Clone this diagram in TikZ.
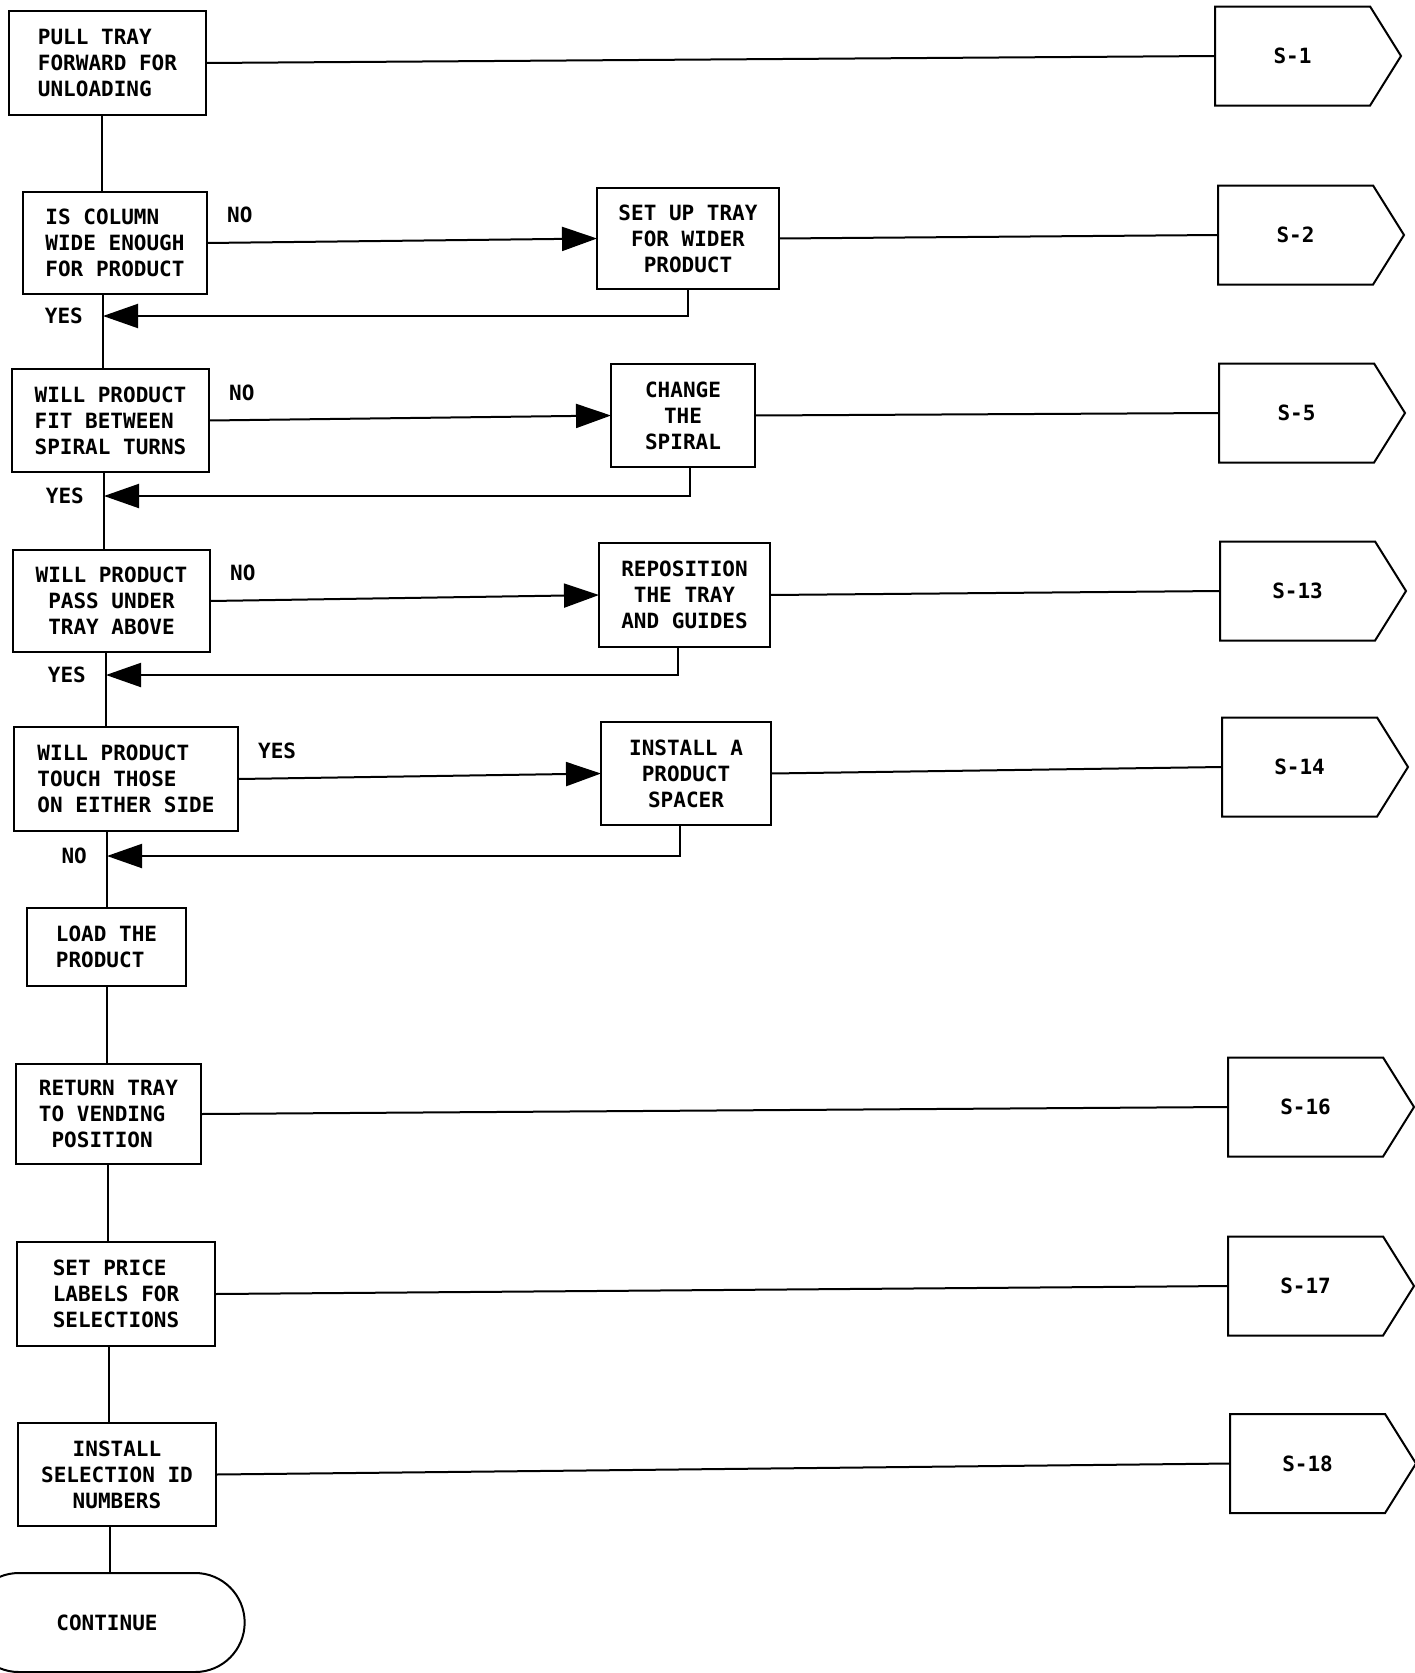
\documentclass[tikz,border=0pt]{standalone}
\usepackage{fontspec}
\newfontfamily\plotfont{DejaVu Sans Mono}
\newcommand{\flowFont}{\plotfont\bfseries\fontsize{21}{26}\selectfont}
\usepackage{tikz}
\usetikzlibrary{arrows.meta}
\usetikzlibrary{positioning}
\usetikzlibrary{shapes}

\begin{document}
\begin{tikzpicture}
      [x=1pt,y=-1pt,
       stepBox/.style={rectangle,draw=black,line width=2pt,inner sep=0pt,outer sep=0pt,align=left,font=\flowFont},
       sideBox/.style={stepBox,align=center},
       pageBox/.style={signal,signal to=east,signal pointer angle=116,draw=black,line width=2pt,anchor=west,
                       minimum width=186pt,minimum height=99pt,inner sep=0pt,outer sep=0pt,font=\flowFont},
       endBox/.style={rounded rectangle,draw=black,line width=2pt,outer sep=0pt,minimum width=282pt,minimum height=99pt,font=\flowFont},
       flowText/.style={inner sep=0pt,font=\flowFont},
       flowLine/.style={line width=2pt},
       flowArrow/.style={flowLine,-{Triangle[length=35pt,width=24pt]}}]
      \useasboundingbox (0,0) rectangle (1414,1673);

      \node[stepBox,minimum width=197pt,minimum height=104pt] (pull) at (107.5,63) {PULL TRAY\\FORWARD FOR\\UNLOADING};
      \node[stepBox,minimum width=184pt,minimum height=102pt] (column) [below=77pt of pull,xshift=7.5pt] {IS COLUMN\\WIDE ENOUGH\\FOR PRODUCT};
      \node[stepBox,minimum width=197pt,minimum height=103pt] (fit) [below=75pt of column,xshift=-4.5pt] {WILL PRODUCT\\FIT BETWEEN\\SPIRAL TURNS};
      \node[sideBox,minimum width=197pt,minimum height=102pt] (pass) [below=78pt of fit,xshift=1pt] {WILL PRODUCT\\PASS UNDER\\TRAY ABOVE};
      \node[stepBox,minimum width=224pt,minimum height=104pt] (touch) [below=75pt of pass,xshift=14.5pt] {WILL PRODUCT\\TOUCH THOSE\\ON EITHER SIDE};
      \node[stepBox,minimum width=159pt,minimum height=78pt] (load) [below=77pt of touch,xshift=-19.5pt] {LOAD THE\\PRODUCT};
      \node[stepBox,minimum width=185pt,minimum height=100pt] (return) [below=78pt of load,xshift=2pt] {RETURN TRAY\\TO VENDING\\\hphantom{R}POSITION};
      \node[stepBox,minimum width=198pt,minimum height=104pt] (price) [below=78pt of return,xshift=7.5pt] {SET PRICE\\LABELS FOR\\SELECTIONS};
      \node[sideBox,minimum width=198pt,minimum height=103pt] (ident) [below=77pt of price,xshift=1pt] {INSTALL\\SELECTION ID\\NUMBERS};
      \node[endBox] (cont) [below=47pt of ident,xshift=-10pt] {CONTINUE};

      \node[sideBox,minimum width=182pt,minimum height=101pt] (setup) [right=390pt of column,yshift=4.5pt] {SET UP TRAY\\FOR WIDER\\PRODUCT};
      \node[sideBox,minimum width=144pt,minimum height=103pt] (change) [right=402pt of fit,yshift=5pt] {CHANGE\\THE\\SPIRAL};
      \node[sideBox,minimum width=171pt,minimum height=104pt] (repos) [right=389pt of pass,yshift=6pt] {REPOSITION\\THE TRAY\\AND GUIDES};
      \node[sideBox,minimum width=170pt,minimum height=103pt] (spacer) [right=363pt of touch,yshift=5.5pt] {INSTALL A\\PRODUCT\\SPACER};

      \node[pageBox] (s1) at (1215,56) {S-1};
      \node[pageBox] (s2) at (1218,235) {S-2};
      \node[pageBox] (s5) at (1219,413) {S-5};
      \node[pageBox] (s13) at (1220,591) {S-13};
      \node[pageBox] (s14) at (1222,767) {S-14};
      \node[pageBox] (s16) at (1228,1107) {S-16};
      \node[pageBox] (s17) at (1228,1286) {S-17};
      \node[pageBox] (s18) at (1230,1463.5) {S-18};

      \coordinate (back2) at (103,316);
      \coordinate (back3) at (104,496);
      \coordinate (back4) at (106,675);
      \coordinate (back5) at (107,856);

      \draw[flowLine] (pull.south -| 102,0) -- (column.north -| 102,0);
      \draw[flowLine] (column.south -| 103,0) -- (fit.north -| 103,0);
      \draw[flowLine] (fit.south -| 104,0) -- (pass.north -| 104,0);
      \draw[flowLine] (pass.south -| 106,0) -- (touch.north -| 106,0);
      \draw[flowLine] (touch.south -| 107,0) -- (load.north -| 107,0);
      \draw[flowLine] (load.south -| 107,0) -- (return.north -| 107,0);
      \draw[flowLine] (return.south -| 108,0) -- (price.north -| 108,0);
      \draw[flowLine] (price.south -| 109,0) -- (ident.north -| 109,0);
      \draw[flowLine] (ident.south -| 110,0) -- (cont.north -| 110,0);

      \draw[flowArrow] (column.east) -- (setup.west);
      \draw[flowArrow] (fit.east) -- (change.west);
      \draw[flowArrow] (pass.east) -- (repos.west);
      \draw[flowArrow] (touch.east) -- (spacer.west);

      \draw[flowArrow] (setup.south) |- (back2);
      \draw[flowArrow] ([xshift=7pt]change.south) |- (back3);
      \draw[flowArrow] ([xshift=-6.5pt]repos.south) |- (back4);
      \draw[flowArrow] ([xshift=-6pt]spacer.south) |- (back5);

      \draw[flowLine] (pull.east) -- (s1.west);
      \draw[flowLine] (setup.east) -- (s2.west);
      \draw[flowLine] (change.east) -- (s5.west);
      \draw[flowLine] (repos.east) -- (s13.west);
      \draw[flowLine] (spacer.east) -- (s14.west);
      \draw[flowLine] (return.east) -- (s16.west);
      \draw[flowLine] (price.east) -- (s17.west);
      \draw[flowLine] (ident.east) -- (s18.west);

      \node[flowText] (no2) [above right=20pt and 20pt of column.east] {NO};
      \node[flowText] (no3) [above right=20pt and 20pt of fit.east] {NO};
      \node[flowText] (no4) [above right=20pt and 20pt of pass.east] {NO};
      \node[flowText] (yes5) [above right=20pt and 20pt of touch.east] {YES};
      \node[flowText] (yes2) [left=20pt of back2] {YES};
      \node[flowText] (yes3) [left=20pt of back3] {YES};
      \node[flowText] (yes4) [left=20pt of back4] {YES};
      \node[flowText] (no5) [left=20pt of back5] {NO};
    \end{tikzpicture}
\end{document}
